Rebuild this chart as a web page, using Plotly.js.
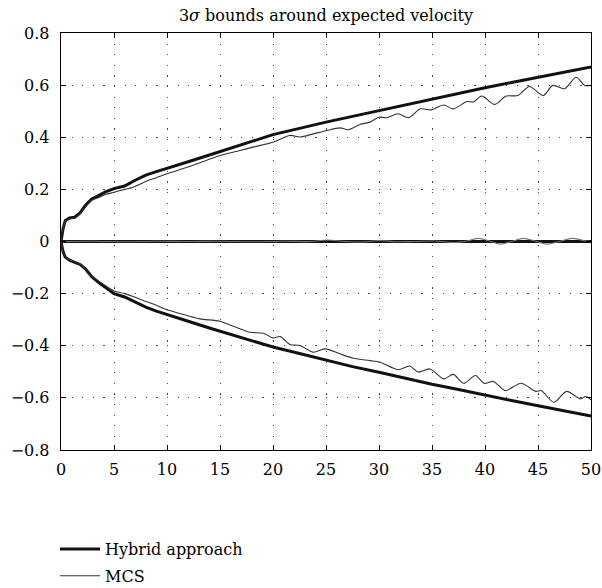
<!DOCTYPE html>
<html>
<head>
<meta charset="utf-8">
<script src="https://cdn.plot.ly/plotly-3.0.1.min.js"></script>
<style>html,body{margin:0;padding:0;background:#fff;}#chart{width:602px;height:588px;}</style>
</head>
<body>
<div id="chart"></div>
<script>
// Hybrid approach: 3-sigma bounds and mean
const hybT     = [0, 0.2, 0.4, 0.8, 1.3, 1.8, 2.3, 2.9, 3.5, 4.2, 5, 6, 7, 8, 9, 10, 12, 14, 16, 18, 20, 22.5, 25, 27.5, 30, 32.5, 35, 37.5, 40, 42.5, 45, 47.5, 50];
const hybUpper = [0, 0.05, 0.08, 0.09, 0.093, 0.11, 0.138, 0.163, 0.175, 0.19, 0.203, 0.213, 0.235, 0.255, 0.268, 0.28, 0.306, 0.332, 0.357, 0.384, 0.41, 0.435, 0.458, 0.48, 0.502, 0.525, 0.548, 0.568, 0.59, 0.61, 0.63, 0.65, 0.67];
const hybLower = [0, -0.04, -0.06, -0.072, -0.08, -0.088, -0.105, -0.135, -0.156, -0.175, -0.2, -0.213, -0.232, -0.252, -0.267, -0.281, -0.306, -0.332, -0.357, -0.383, -0.405, -0.43, -0.455, -0.48, -0.502, -0.525, -0.548, -0.568, -0.59, -0.61, -0.63, -0.65, -0.67];
const hybMeanT = [0, 50];
const hybMean  = [0, 0];

// MCS: 3-sigma bounds and mean
const mcsUpT = [0, 0.2, 0.4, 0.8, 1.3, 1.8, 2.3, 2.9, 3.5, 4.2, 5, 6, 6.8, 8.1, 9, 10, 11.9, 13.7, 15, 16.9, 18.1, 20, 21.6, 22.55, 23.8, 25.1, 26.3, 27.1, 28.2, 29.15, 30, 30.7, 31.8, 32.8, 33.9, 34.9, 36.1, 37, 38.3, 38.9, 39.7, 40.9, 42, 43.1, 44.2, 45.5, 46.4, 47.5, 48.6, 49.4, 50];
const mcsUpper = [0, 0.048, 0.077, 0.087, 0.09, 0.105, 0.132, 0.158, 0.168, 0.18, 0.189, 0.2, 0.208, 0.232, 0.245, 0.26, 0.285, 0.311, 0.33, 0.349, 0.362, 0.381, 0.407, 0.401, 0.413, 0.426, 0.436, 0.429, 0.449, 0.458, 0.477, 0.475, 0.49, 0.475, 0.509, 0.505, 0.524, 0.509, 0.537, 0.535, 0.558, 0.526, 0.558, 0.56, 0.595, 0.56, 0.599, 0.586, 0.63, 0.599, 0.599];
const mcsLoT = [0, 0.2, 0.4, 0.8, 1.3, 1.95, 2.6, 3.5, 4.6, 5, 6, 7, 7.8, 8.7, 10, 11.9, 13.1, 15, 16.3, 17.8, 19.1, 20, 20.7, 21.6, 22.55, 23.8, 24.9, 26.3, 27.6, 29.15, 30.1, 31.8, 32.9, 33.7, 34.8, 36.1, 37, 38, 39.1, 39.9, 40.8, 41.9, 43.4, 44.8, 45.3, 46.5, 47.7, 49, 49.5, 50];
const mcsLower = [0, -0.038, -0.058, -0.07, -0.078, -0.09, -0.125, -0.15, -0.18, -0.19, -0.2, -0.214, -0.227, -0.24, -0.262, -0.284, -0.297, -0.306, -0.326, -0.348, -0.352, -0.37, -0.365, -0.395, -0.399, -0.425, -0.412, -0.431, -0.448, -0.457, -0.463, -0.492, -0.478, -0.501, -0.489, -0.527, -0.51, -0.544, -0.514, -0.544, -0.537, -0.572, -0.544, -0.575, -0.572, -0.617, -0.575, -0.604, -0.595, -0.607];
const mcsMeanT = [0, 3, 6, 9, 12, 15, 18, 21, 23.5, 25.1, 26.8, 28.5, 30, 31.6, 33.3, 35.2, 37, 38.3, 39.4, 40.4, 41.4, 42.5, 43.6, 44.7, 45.8, 47, 48.2, 49.3, 50];
const mcsMean  = [0, 0.001, -0.001, 0.001, 0, 0.001, -0.001, 0.001, 0, 0.006, 0, -0.002, 0.004, -0.001, 0, 0.002, -0.004, 0.002, 0.012, 0.002, -0.01, 0, 0.012, 0.002, -0.01, 0, 0.012, 0.004, 0];

// Axis ticks
const xTicks = [0, 5, 10, 15, 20, 25, 30, 35, 40, 45, 50];
const yTicks = [-0.8, -0.6, -0.4, -0.2, 0, 0.2, 0.4, 0.6, 0.8];
const yTickText = ['\u22120.8', '\u22120.6', '\u22120.4', '\u22120.2', '0', '0.2', '0.4', '0.6', '0.8'];

const FONT = 'DejaVu Serif';
const hybLine = {color: '#111', width: 3};
const mcsLine = {color: '#333', width: 1.1, shape: 'spline', smoothing: 0.8};

const traces = [
  {x: hybT, y: hybUpper, mode: 'lines', line: hybLine, name: 'Hybrid approach', legendgroup: 'h', showlegend: true},
  {x: hybT, y: hybLower, mode: 'lines', line: hybLine, name: 'Hybrid approach', legendgroup: 'h', showlegend: false},
  {x: hybMeanT, y: hybMean, mode: 'lines', line: hybLine, name: 'Hybrid approach', legendgroup: 'h', showlegend: false},
  {x: mcsUpT, y: mcsUpper, mode: 'lines', line: mcsLine, name: 'MCS', legendgroup: 'm', showlegend: true},
  {x: mcsLoT, y: mcsLower, mode: 'lines', line: mcsLine, name: 'MCS', legendgroup: 'm', showlegend: false},
  {x: mcsMeanT, y: mcsMean, mode: 'lines', line: {color: '#777', width: 1.1, shape: 'spline'}, name: 'MCS', legendgroup: 'm', showlegend: false}
];

const axisCommon = {
  showline: true, linecolor: '#000', linewidth: 1.3, mirror: 'ticks',
  ticks: 'inside', ticklen: 5, tickwidth: 1, tickcolor: '#000',
  showgrid: true, gridcolor: '#444', gridwidth: 1, griddash: '1.2px,9.4px',
  zeroline: false, tickfont: {family: FONT, size: 16, color: '#000'}
};

const layout = {
  width: 602, height: 588,
  paper_bgcolor: '#fff', plot_bgcolor: '#fff',
  margin: {l: 61, r: 11, t: 33, b: 138, autoexpand: false},
  showlegend: true,
  title: {
    text: '3<i>σ</i> bounds around expected velocity',
    font: {family: FONT, size: 16, color: '#000'},
    x: 0.5, xref: 'paper', xanchor: 'center',
    y: 1 - 15 / 588, yref: 'container', yanchor: 'middle'
  },
  xaxis: Object.assign({}, axisCommon, {range: [0, 50], tickvals: xTicks, ticklabelstandoff: 4}),
  yaxis: Object.assign({}, axisCommon, {range: [-0.8, 0.8], tickvals: yTicks, ticktext: yTickText, ticklabelstandoff: 7}),
  legend: {
    x: -0.0113, xanchor: 'left', y: 1 - 532 / 588, yref: 'container', yanchor: 'top',
    orientation: 'v', bgcolor: 'rgba(0,0,0,0)',
    font: {family: FONT, size: 16, color: '#000'},
    tracegroupgap: 3, itemwidth: 40
  }
};

Plotly.newPlot('chart', traces, layout, {staticPlot: true, displayModeBar: false});
</script>
</body>
</html>
